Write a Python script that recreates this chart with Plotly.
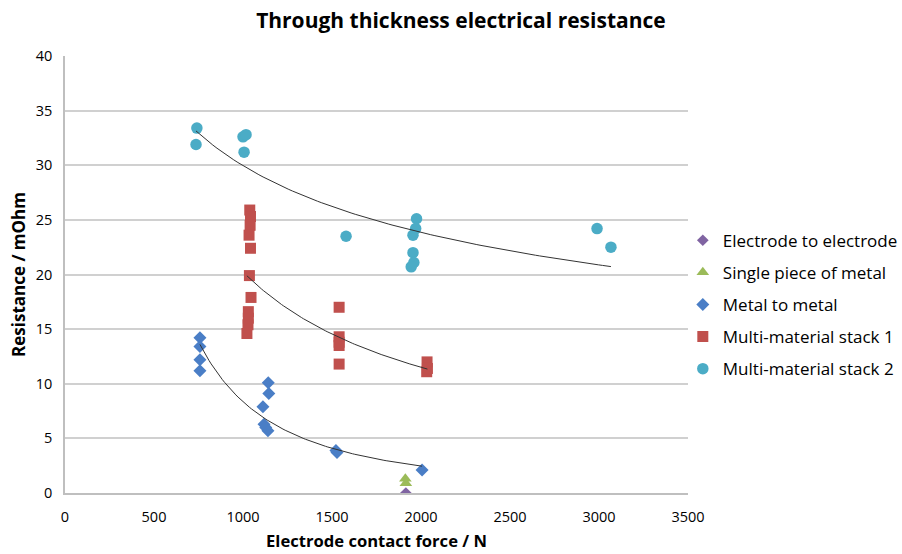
import numpy as np
import plotly.graph_objects as go

# ---- data ----
elec_x = [1915]
elec_y = [0.0]

single_x = [1912, 1915]
single_y = [1.3, 0.9]

metal_x = [758, 758, 758, 758, 1142, 1145, 1112, 1118, 1128, 1140, 1522, 1528, 2006]
metal_y = [14.2, 13.4, 12.2, 11.2, 10.1, 9.1, 7.9, 6.3, 6.0, 5.7, 3.9, 3.7, 2.1]

stack1_x = [1038, 1042, 1040, 1034, 1042, 1036, 1045, 1030, 1030, 1028, 1022,
            1540, 1540, 1540, 1540, 1540, 2034, 2036, 2032]
stack1_y = [25.9, 25.3, 24.5, 23.6, 22.4, 19.9, 17.9, 16.6, 16.0, 15.4, 14.6,
            17.0, 14.3, 13.8, 13.5, 11.8, 12.0, 11.4, 11.1]

stack2_x = [741, 736, 1000, 1017, 1006, 1579, 1975, 1970, 1955, 1955, 1960, 1945, 2989, 3067]
stack2_y = [33.4, 31.9, 32.6, 32.8, 31.2, 23.5, 25.1, 24.2, 23.6, 22.0, 21.1, 20.7, 24.2, 22.5]

x_ticks = [0, 500, 1000, 1500, 2000, 2500, 3000, 3500]
y_ticks = [0, 5, 10, 15, 20, 25, 30, 35, 40]

FONT = "Open Sans, Liberation Sans, sans-serif"

fig = go.Figure()

series = [
    ("Electrode to electrode", elec_x, elec_y, "diamond", "#8064A2", 9),
    ("Single piece of metal", single_x, single_y, "triangle-up", "#9BBB59", 11),
    ("Metal to metal", metal_x, metal_y, "diamond", "#4A7EC6", 10),
    ("Multi-material stack 1", stack1_x, stack1_y, "square", "#C0504D", 11),
    ("Multi-material stack 2", stack2_x, stack2_y, "circle", "#4BACC6", 11.5),
]

for i, (name, xs, ys, sym, col, sz) in enumerate(series):
    fig.add_trace(go.Scatter(
        x=xs, y=ys, mode="markers", name=name, legendgroup=f"g{i}",
        marker=dict(symbol=sym, color=col, size=sz, line=dict(width=0)),
    ))

# power-law trendlines (fit in log-log space, as a spreadsheet power trendline)
for xs, ys in [(metal_x, metal_y), (stack1_x, stack1_y), (stack2_x, stack2_y)]:
    xa = np.array(xs, float)
    ya = np.array(ys, float)
    b, lna = np.polyfit(np.log(xa), np.log(ya), 1)
    xt = np.linspace(xa.min(), xa.max(), 100)
    yt = np.exp(lna) * xt ** b
    fig.add_trace(go.Scatter(x=xt, y=yt, mode="lines", showlegend=False,
                             hoverinfo="skip",
                             line=dict(color="#333333", width=1)))

fig.update_layout(
    width=902, height=554,
    margin=dict(l=65, r=214, t=56, b=61, autoexpand=False),
    paper_bgcolor="white", plot_bgcolor="white",
    font=dict(family=FONT, size=14.5, color="#000000"),
    title=dict(text="<b>Through thickness electrical resistance</b>",
               x=0.511, xanchor="center", y=0.962, yanchor="middle",
               font=dict(family=FONT, size=21, color="#000000")),
    showlegend=True,
    legend=dict(xref="container", x=0.757, xanchor="left",
                yref="container", y=0.45, yanchor="middle",
                font=dict(family=FONT, size=17, color="#000000"),
                tracegroupgap=7, itemwidth=30, bgcolor="rgba(0,0,0,0)"),
    xaxis=dict(range=[0, 3500], tickvals=x_ticks, ticktext=[str(v) for v in x_ticks],
               showgrid=False, zeroline=False, showline=True, linecolor="#BFBFBF",
               linewidth=1.5, ticks="", tickfont=dict(size=14.5),
               ticklabelstandoff=10,
               title=dict(text="<b>Electrode contact force / N</b>",
                          font=dict(size=16.6), standoff=10)),
    yaxis=dict(range=[0, 40], tickvals=y_ticks, ticktext=[str(v) for v in y_ticks],
               showgrid=True, gridcolor="#D0D0D0", gridwidth=1.5,
               zeroline=False, showline=True, linecolor="#BFBFBF", linewidth=1.5,
               ticks="", tickfont=dict(size=14.5), ticklabelstandoff=8,
               title=dict(text="<b>Resistance / mOhm</b>",
                          font=dict(size=17), standoff=6)),
)

fig.write_html("out.html")
